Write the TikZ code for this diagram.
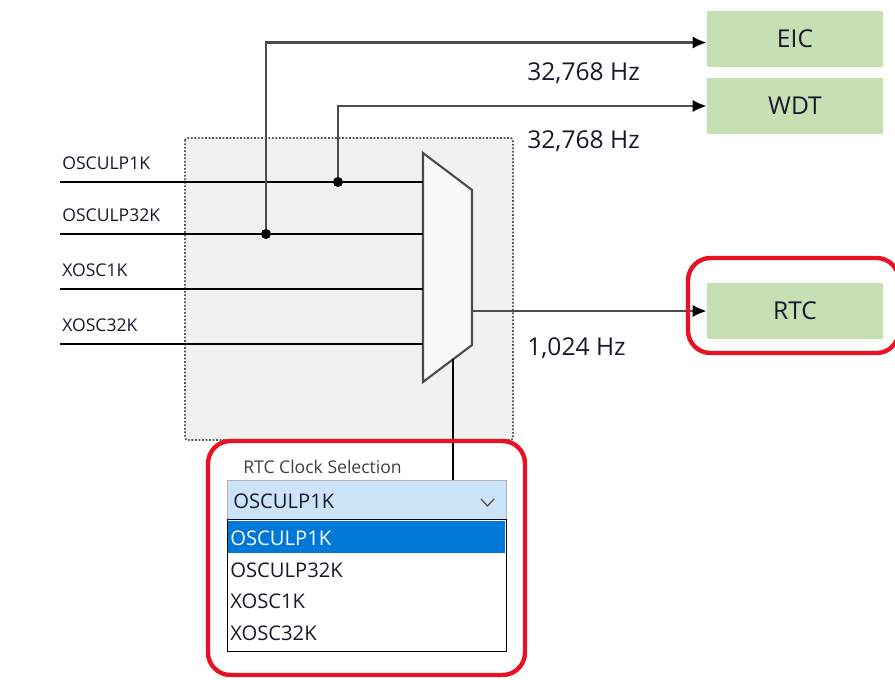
\documentclass[tikz,border=0pt]{standalone}
\usepackage{fontspec}
\setmainfont{Open Sans}
\usetikzlibrary{arrows.meta,calc,positioning}
\definecolor{BoxClr}{rgb}{0.776,0.878,0.706}
\definecolor{RingClr}{rgb}{0.91,0.07,0.14}
\definecolor{AreaClr}{rgb}{0.945,0.945,0.945}
\definecolor{WireClr}{rgb}{0.3,0.3,0.3}
\definecolor{ComboClr}{rgb}{0.8,0.894,0.969}
\definecolor{PickClr}{rgb}{0,0.471,0.843}
\definecolor{TextClr}{rgb}{0.1,0.1,0.18}

\begin{document}
\begin{tikzpicture}[x=0.02cm,y=-0.02cm,
  block/.style={fill=BoxClr,minimum width=3.52cm,minimum height=1.12cm,font=\fontsize{14}{16}\selectfont,text=TextClr},
  wire/.style={draw=WireClr,line width=1.2pt},
  feed/.style={wire,-{Latex[length=8pt,width=7pt,black]}},
  inp/.style={draw=black,line width=1pt},
  dot/.style={circle,fill=black,inner sep=0pt,minimum size=0.2cm},
  freq/.style={anchor=base west,inner sep=0pt,font=\fontsize{14}{16}\selectfont,text=TextClr},
  sig/.style={anchor=base west,inner sep=0pt,font=\fontsize{10}{12}\selectfont,text=TextClr},
  ring/.style={draw=RingClr,line width=2.5pt,rounded corners=0.45cm},
  item/.style={anchor=base west,inner sep=0pt,font=\fontsize{11.5}{13}\selectfont,text=TextClr}]
\useasboundingbox (0,0) rectangle (895,679);

% area round the selector
\draw[fill=AreaClr,draw=black!65,densely dotted,line width=1pt,rounded corners=1pt] (185,138) rectangle (513,440);

% selector
\coordinate (mtl) at (423,153);
\coordinate (mtr) at (472,190);
\coordinate (mbr) at (472,345);
\coordinate (mbl) at (423,382);
\draw[wire,fill=white!60!AreaClr,line join=miter] (mtl) -- (mtr) -- (mbr) -- (mbl) -- cycle;

% inputs
\foreach \name/\y in {OSCULP1K/182,OSCULP32K/234,XOSC1K/289,XOSC32K/344}{
  \coordinate (\name) at (60,\y);
  \node[sig] (\name-lbl) at ($(\name)+(2,-13)$) {\name};
  \draw[inp] (\name) -- (\name -| mtl);
}

% targets
\node[block] (eic) at (795,39) {EIC};
\node[block] (wdt) at (795,106) {WDT};
\node[block] (rtc) at (795,311) {RTC};

\node[dot] (tap32) at (266,234) {};
\node[dot] (tap1) at (338,182) {};
\coordinate (mout) at (mtr |- rtc);
\draw[feed] (tap32) |- ([yshift=-2]eic.west);
\draw[feed] (tap1) |- (wdt);
\draw[feed] (mout) -- (rtc);

\node[freq] (f-eic) at (527,81) {32,768 Hz};
\node[freq] (f-wdt) at (527,148) {32,768 Hz};
\node[freq] (f-rtc) at (527,355) {1,024 Hz};

% clock selection
\node[anchor=base west,inner sep=0pt,font=\fontsize{10}{12}\selectfont,text=black!75] (caption) at (243,473) {RTC Clock Selection};
\node[anchor=north west,fill=ComboClr,draw=black!30,line width=0.6pt,minimum width=5.58cm,minimum height=0.78cm] (combo) at (227,480) {};
\node[item] (pick) at (233,508) {OSCULP1K};
\draw[black!70,line width=0.7pt] (481,499) -- (487.5,506) -- (494,499);
\node[anchor=north west,fill=white,draw=black,line width=0.7pt,minimum width=5.58cm,minimum height=2.64cm] (list) at (227,519) {};
\node[anchor=north west,fill=PickClr,inner sep=0pt,minimum width=5.54cm,minimum height=0.64cm] (band) at (228,521) {};
\node[item,text=white] (opt1) at (230,545) {OSCULP1K};
\node[item] (opt2) at (230,577) {OSCULP32K};
\node[item] (opt3) at (230,608) {XOSC1K};
\node[item] (opt4) at (230,640) {XOSC32K};

\coordinate (sel) at ($(mbl)!0.61!(mbr)$);
\draw[inp] (sel) -- (sel |- combo.north);

% highlights
\draw[ring] (688,258) rectangle (899,353);
\draw[ring] (208,441) rectangle (525,675);

\end{tikzpicture}
\end{document}
